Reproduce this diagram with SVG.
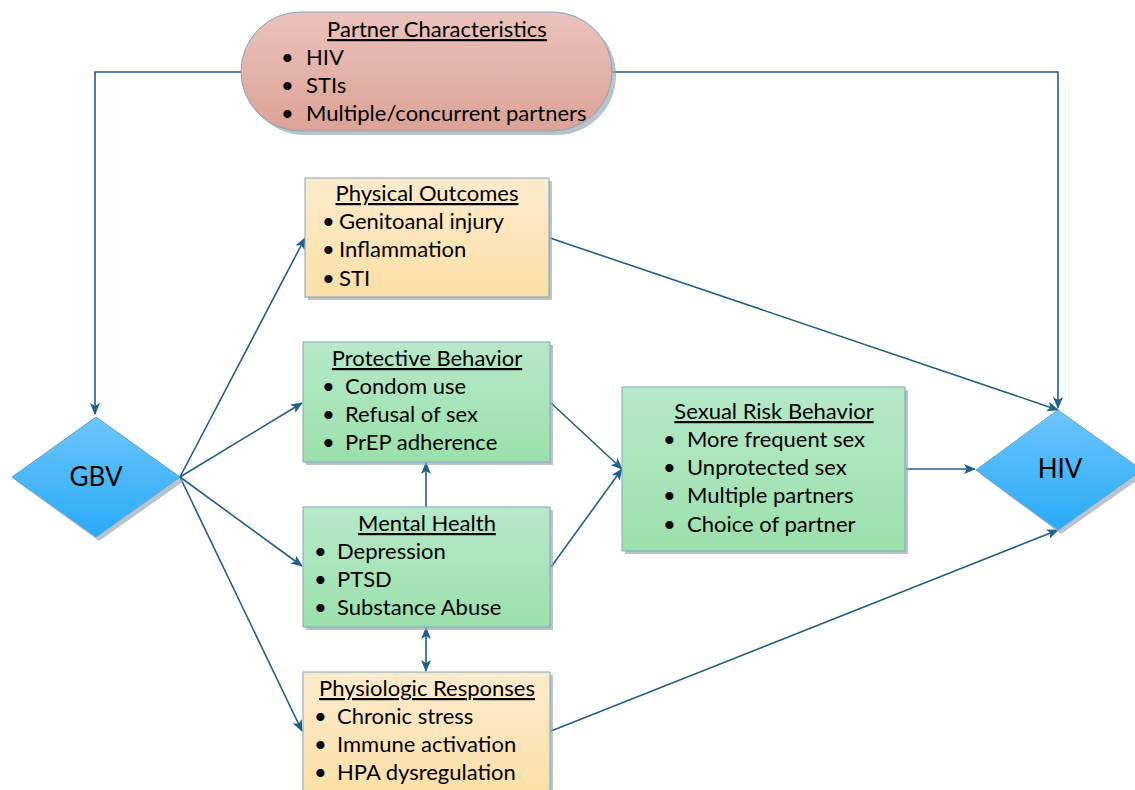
<svg xmlns="http://www.w3.org/2000/svg" width="1135" height="790" viewBox="0 0 1135 790">
<defs>
<linearGradient id="gPink" x1="0" y1="0" x2="0" y2="1"><stop offset="0" stop-color="#ebc3bc"/><stop offset="1" stop-color="#dca295"/></linearGradient>
<linearGradient id="gTan" x1="0" y1="0" x2="0" y2="1"><stop offset="0" stop-color="#fdebcc"/><stop offset="1" stop-color="#fbdfa6"/></linearGradient>
<linearGradient id="gGreen" x1="0" y1="0" x2="0" y2="1"><stop offset="0" stop-color="#b6e9c8"/><stop offset="1" stop-color="#9be0ab"/></linearGradient>
<linearGradient id="gBlue" x1="0" y1="0" x2="0" y2="1"><stop offset="0" stop-color="#6cc6fb"/><stop offset="1" stop-color="#2aaaf8"/></linearGradient>
<marker id="ah" viewBox="0 0 12 10" refX="11" refY="5" markerWidth="12" markerHeight="10" markerUnits="userSpaceOnUse" orient="auto-start-reverse"><path d="M0,0 L12,5 L0,10 L3,5 Z" fill="#1f5f8b"/></marker>
</defs>
<style>
.box{stroke:#7ea6c0;stroke-width:1}
.shadow{fill:#9aa9b6;opacity:0.7}
.t{font-family:Lato,"Open Sans",sans-serif;font-size:22px;fill:#000}
.h{text-decoration:underline;text-anchor:middle}
.big{font-family:Lato,"Open Sans",sans-serif;font-size:26px;text-anchor:middle;fill:#000}
.c{fill:none;stroke:#1f5f8b;stroke-width:1.6}
</style>
<rect width="1135" height="790" fill="#fff"/>
<g id="connectors">
<polyline class="c" points="242,72 95,72 95,414" marker-end="url(#ah)"/>
<polyline class="c" points="612,72 1058,72 1058,408" marker-end="url(#ah)"/>
<line class="c" x1="180" y1="477" x2="305" y2="238" marker-end="url(#ah)"/>
<line class="c" x1="180" y1="477" x2="302" y2="403" marker-end="url(#ah)"/>
<line class="c" x1="180" y1="477" x2="302" y2="566" marker-end="url(#ah)"/>
<line class="c" x1="180" y1="477" x2="302" y2="731" marker-end="url(#ah)"/>
<line class="c" x1="550" y1="238" x2="1058" y2="410" marker-end="url(#ah)"/>
<line class="c" x1="551" y1="403" x2="622" y2="469" marker-end="url(#ah)"/>
<line class="c" x1="551" y1="567" x2="622" y2="469" marker-end="url(#ah)"/>
<line class="c" x1="426" y1="507" x2="426" y2="463" marker-end="url(#ah)"/>
<line class="c" x1="426" y1="628" x2="426" y2="671" marker-start="url(#ah)" marker-end="url(#ah)"/>
<line class="c" x1="906" y1="469" x2="975" y2="469" marker-end="url(#ah)"/>
<line class="c" x1="551" y1="731" x2="1058" y2="530" marker-end="url(#ah)"/>
</g>
<g id="partner">
<rect class="shadow" x="245" y="16" width="371" height="119" rx="59.5"/>
<rect class="box" x="241" y="12" width="371" height="119" rx="59.5" fill="url(#gPink)"/>
<text class="t h" x="437" y="37">Partner Characteristics</text>
<text class="t" x="281" y="65">•</text><text class="t" x="306" y="65">HIV</text>
<text class="t" x="281" y="93">•</text><text class="t" x="306" y="93">STIs</text>
<text class="t" x="281" y="121">•</text><text class="t" x="306" y="121">Multiple/concurrent partners</text>
</g>
<g id="gbv">
<polygon class="shadow" points="99,421 184,481 99,541 16,481"/>
<polygon points="96,417 180,477 96,537 12,477" fill="url(#gBlue)" stroke="#5aa6d8" stroke-width="1"/>
<text class="big" x="96" y="486">GBV</text>
</g>
<g id="hiv">
<polygon class="shadow" points="1061,414 1146,474 1061,534 980,474"/>
<polygon points="1058,410 1142,470 1058,530 976,470" fill="url(#gBlue)" stroke="#5aa6d8" stroke-width="1"/>
<text class="big" x="1060" y="478">HIV</text>
</g>
<g id="physical">
<rect class="shadow" x="308" y="181" width="244" height="119"/>
<rect class="box" x="305" y="178" width="244" height="119" fill="url(#gTan)"/>
<text class="t h" x="427" y="201">Physical Outcomes</text>
<text class="t" x="322" y="229">•</text><text class="t" x="339" y="229">Genitoanal injury</text>
<text class="t" x="322" y="257">•</text><text class="t" x="339" y="257">Inflammation</text>
<text class="t" x="322" y="286">•</text><text class="t" x="339" y="286">STI</text>
</g>
<g id="protective">
<rect class="shadow" x="306" y="345" width="247" height="120"/>
<rect class="box" x="303" y="342" width="247" height="120" fill="url(#gGreen)"/>
<text class="t h" x="427" y="366">Protective Behavior</text>
<text class="t" x="322" y="394">•</text><text class="t" x="345" y="394">Condom use</text>
<text class="t" x="322" y="422">•</text><text class="t" x="345" y="422">Refusal of sex</text>
<text class="t" x="322" y="450">•</text><text class="t" x="345" y="450">PrEP adherence</text>
</g>
<g id="mental">
<rect class="shadow" x="306" y="510" width="247" height="120"/>
<rect class="box" x="303" y="507" width="247" height="120" fill="url(#gGreen)"/>
<text class="t h" x="427" y="531">Mental Health</text>
<text class="t" x="314" y="559">•</text><text class="t" x="337" y="559">Depression</text>
<text class="t" x="314" y="587">•</text><text class="t" x="337" y="587">PTSD</text>
<text class="t" x="314" y="615">•</text><text class="t" x="337" y="615">Substance Abuse</text>
</g>
<g id="physiologic">
<rect class="shadow" x="306" y="675" width="247" height="125"/>
<rect class="box" x="303" y="672" width="247" height="125" fill="url(#gTan)"/>
<text class="t h" x="427" y="696">Physiologic Responses</text>
<text class="t" x="314" y="724">•</text><text class="t" x="337" y="724">Chronic stress</text>
<text class="t" x="314" y="752">•</text><text class="t" x="337" y="752">Immune activation</text>
<text class="t" x="314" y="780">•</text><text class="t" x="337" y="780">HPA dysregulation</text>
</g>
<g id="sexual">
<rect class="shadow" x="625" y="390" width="283" height="164"/>
<rect class="box" x="622" y="387" width="283" height="164" fill="url(#gGreen)"/>
<text class="t h" x="774" y="419">Sexual Risk Behavior</text>
<text class="t" x="663" y="447">•</text><text class="t" x="687" y="447">More frequent sex</text>
<text class="t" x="663" y="475">•</text><text class="t" x="687" y="475">Unprotected sex</text>
<text class="t" x="663" y="503">•</text><text class="t" x="687" y="503">Multiple partners</text>
<text class="t" x="663" y="532">•</text><text class="t" x="687" y="532">Choice of partner</text>
</g>
</svg>
